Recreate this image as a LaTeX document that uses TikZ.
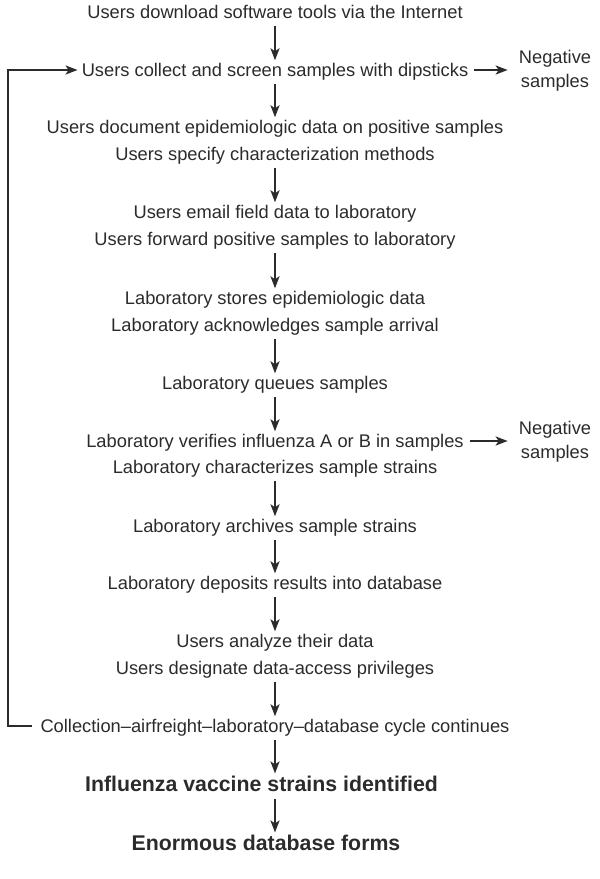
\documentclass[tikz,border=0pt]{standalone}
\usepackage{fontspec}
\setmainfont{Liberation Sans}
\usetikzlibrary{arrows.meta}
\definecolor{ink}{HTML}{2B2B2B}

\begin{document}
\begin{tikzpicture}[x=1pt,y=-1pt,line join=miter,
	every node/.style={font=\fontsize{18.3}{24}\selectfont,text=ink},
	line/.style={text height=13pt,text depth=4pt,inner xsep=3pt,inner ysep=3pt},
	big/.style={font=\fontsize{21.3}{26}\selectfont\bfseries,text height=15pt,text depth=4.5pt,inner xsep=3pt,inner ysep=3pt},
	neg/.style={align=center,inner xsep=11pt,inner ysep=0pt},
	flow/.style={-{Stealth[length=12pt,width=9pt,inset=3pt]},draw=ink,line width=2pt}]
	\useasboundingbox (0,0) rectangle (600,879);
	% main column
	\node[line] (dl) at (275,14) {Users download software tools via the Internet};
	\node[line] (col) at (275,72) {Users collect and screen samples with dipsticks};
	\node[line] (doc) at (275,129) {Users document epidemiologic data on positive samples};
	\node[line] (spec) at (275,156) {Users specify characterization methods};
	\node[line] (mail) at (275,214) {Users email field data to laboratory};
	\node[line] (fwd) at (275,241) {Users forward positive samples to laboratory};
	\node[line] (store) at (275,300) {Laboratory stores epidemiologic data};
	\node[line] (ack) at (275,327) {Laboratory acknowledges sample arrival};
	\node[line] (queue) at (275,385) {Laboratory queues samples};
	\node[line] (ver) at (275,443) {Laboratory verifies influenza A or B in samples};
	\node[line] (char) at (275,469) {Laboratory characterizes sample strains};
	\node[line] (arch) at (275,528) {Laboratory archives sample strains};
	\node[line] (dep) at (275,585) {Laboratory deposits results into database};
	\node[line] (ana) at (275,643) {Users analyze their data};
	\node[line] (des) at (275,670) {Users designate data-access privileges};
	\node[line] (cyc) at (275,728) {Collection–airfreight–laboratory–database cycle continues};
	\node[big] (vac) at (261.5,786.4) {Influenza vaccine strains identified};
	\node[big] (db) at (266,845.4) {Enormous database forms};
	% side outputs
	\node[neg] (neg1) at (555,71) {Negative\\samples};
	\node[neg] (neg2) at (555,442) {Negative\\samples};
	\coordinate (back) at (7.5,400);

	\draw[flow] (dl) -- (col);
	\draw[flow] (col) -- (doc);
	\draw[flow] (spec) -- (mail);
	\draw[flow] (fwd) -- (store);
	\draw[flow] (ack) -- (queue);
	\draw[flow] (queue) -- (ver);
	\draw[flow] (char) -- (arch);
	\draw[flow] (arch) -- (dep);
	\draw[flow] (dep) -- (ana);
	\draw[flow] (des) -- (cyc);
	\draw[flow] (cyc.south) -- (cyc.south |- vac.north);
	\draw[flow] (cyc.south |- vac.south) -- (cyc.south |- db.north);
	\draw[flow,shorten <=3pt] ([yshift=2pt]col.east) -- ([yshift=2pt]col.east -| neg1.west);
	\draw[flow,shorten <=3pt] ([yshift=2pt]ver.east) -- ([yshift=2pt]ver.east -| neg2.west);
	% loop back
	\draw[flow,shorten <=5pt,shorten >=1pt] ([yshift=2pt]cyc.west) -| (back) |- ([yshift=2pt]col.west);
\end{tikzpicture}
\end{document}
